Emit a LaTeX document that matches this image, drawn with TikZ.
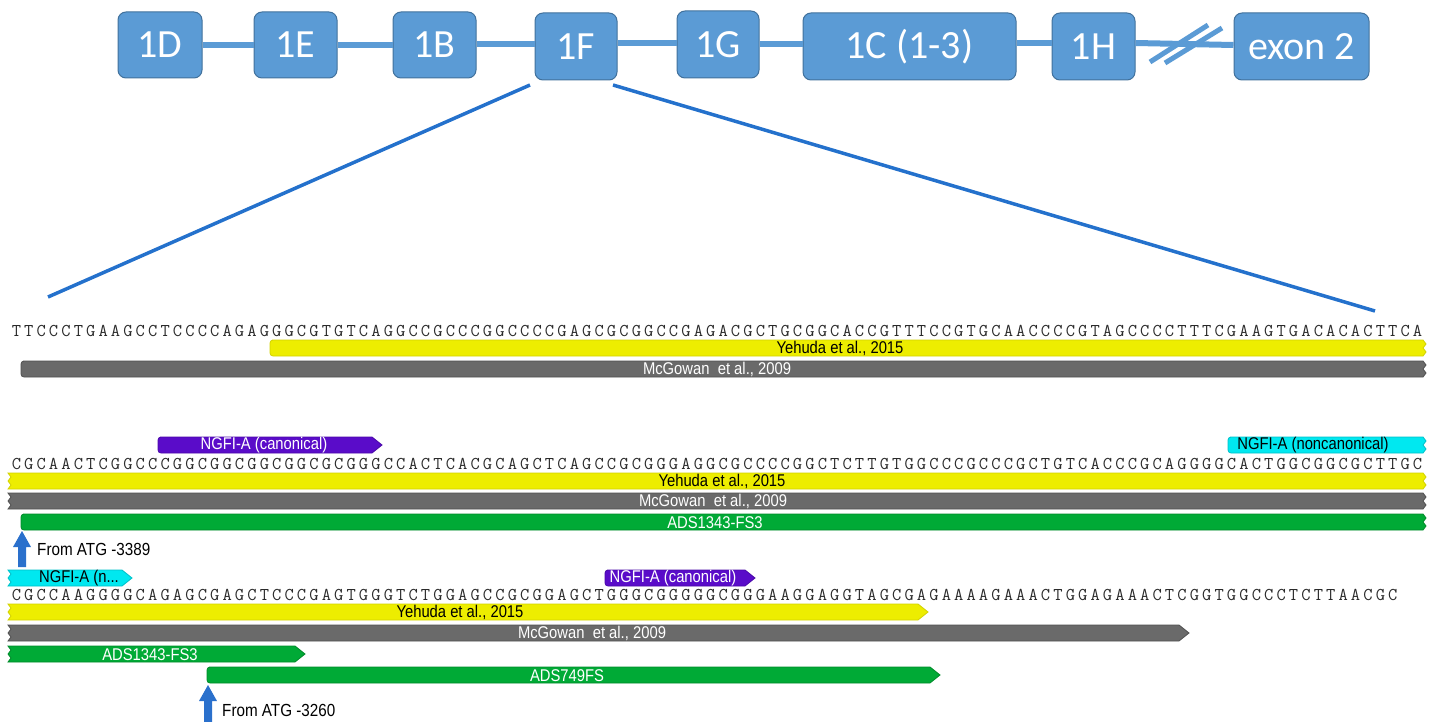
\documentclass[tikz,border=0pt]{standalone}
\usepackage{fontspec}
\usepackage{graphicx}
\setmainfont{Liberation Sans}
\newfontfamily\boxfont{Carlito}
\usetikzlibrary{calc}

\definecolor{exonblue}{HTML}{5B9BD5}
\definecolor{exonedge}{HTML}{41719C}
\definecolor{zoomblue}{HTML}{2471CC}
\definecolor{arrowblue}{HTML}{2A70CC}
\definecolor{ylw}{HTML}{EDED00}
\definecolor{ylwedge}{HTML}{D2D200}
\definecolor{gry}{HTML}{6A6A6A}
\definecolor{gryedge}{HTML}{505050}
\definecolor{grn}{HTML}{00AA36}
\definecolor{grnedge}{HTML}{008A2A}
\definecolor{prp}{HTML}{5A0CC9}
\definecolor{prpedge}{HTML}{4A08A8}
\definecolor{cyn}{HTML}{00E8F0}
\definecolor{cynedge}{HTML}{00C0C8}
\definecolor{seqcol}{HTML}{2A2A2A}

\newcommand{\seqtext}[1]{\seqloop#1\relax}
\def\seqloop#1{\ifx\relax#1\else\makebox[12.4pt]{#1}\expandafter\seqloop\fi}
\newcommand{\lbl}[1]{\scalebox{0.87}[1]{#1}}
\newcounter{featn}

\tikzset{
  exon/.style={rounded corners=8pt, fill=exonblue, draw=exonedge, line width=1pt,
    text=white, font=\boxfont\fontsize{40}{40}\selectfont, inner sep=0pt, minimum height=66pt},
  link/.style={exonblue, line width=6pt},
  zoomline/.style={zoomblue, line width=3.5pt},
  seq/.style={anchor=base west, inner sep=0pt, text=seqcol, font=\ttfamily\fontsize{18}{18}\selectfont},
  ybar/.style={fill=ylw, draw=ylwedge, line width=0.8pt},
  gbar/.style={fill=gry, draw=gryedge, line width=0.8pt},
  grbar/.style={fill=grn, draw=grnedge, line width=0.8pt},
  pbar/.style={fill=prp, draw=prpedge, line width=0.8pt},
  cbar/.style={fill=cyn, draw=cynedge, line width=0.8pt},
  dark/.style={text=black, inner sep=0pt, font=\fontsize{17}{17}\selectfont},
  light/.style={text=white, inner sep=0pt, font=\fontsize{17}{17}\selectfont},
  atg/.style={fill=arrowblue, draw=none},
  atglabel/.style={anchor=west, inner sep=0pt, text=black, font=\fontsize{17.5}{17.5}\selectfont}
}

% #1 left r/z, #2 right a/z, #3 x1, #4 x2, #5 ytop, #6 bar style, #7 label, #8 label x, #9 label style
\newcommand{\feat}[9]{%
  \stepcounter{featn}%
  \if z#2\def\rpart{-- ({#4-2},#5) -- ({#4+1},{#5+4}) -- ({#4-2},{#5+8}) -- ({#4+1},{#5+12}) -- ({#4-2},{#5+16})}%
  \else\def\rpart{-- ({#4-10},#5) -- (#4,{#5+8}) -- ({#4-10},{#5+16})}\fi
  \if z#1\def\lpart{-- ({#3+5},{#5+16}) -- (#3,{#5+16}) -- ({#3+3},{#5+12}) -- (#3,{#5+8}) -- ({#3+3},{#5+4}) -- (#3,#5) -- cycle}%
  \else\def\lpart{-- ({#3+5},{#5+16}) [rounded corners=3pt] -- (#3,{#5+16}) -- (#3,#5) -- cycle}\fi
  \draw[#6] ({#3+5},#5) \rpart \lpart;
  \node[#9] (lab\arabic{featn}) at (#8,{#5+8.5}) {\lbl{#7}};
}

\begin{document}
\begin{tikzpicture}[x=1pt,y=-1pt]
\useasboundingbox (0,0) rectangle (1437,722);

% ---- exon map ----
\node[exon, minimum width=84pt] (d) at (160,45) {1D};
\node[exon, minimum width=83pt] (e) at (295.5,45) {1E};
\node[exon, minimum width=83pt] (b) at (434.5,45) {1B};
\node[exon, minimum width=82pt, minimum height=67pt] (f) at (576,46.5) {1F};
\node[exon, minimum width=82pt, minimum height=67pt] (g) at (718,44.5) {1G};
\node[exon, minimum width=213pt, minimum height=67pt] (c) at (909.5,46.5) {1C (1-3)};
\node[exon, minimum width=83pt, minimum height=67pt] (h) at (1093.5,46.5) {1H};
\node[exon, minimum width=135pt, minimum height=67pt] (x) at (1301.5,46.5) {exon 2};

\draw[link] (d.east) -- (e.west);
\draw[link] (e.east) -- (b.west);
\draw[link] (b.east |- 0,44) -- (f.west |- 0,44);
\draw[link] (f.east |- 0,43) -- (g.west |- 0,43);
\draw[link] (g.east |- 0,44) -- (c.west |- 0,44);
\draw[link] (c.east |- 0,43) -- (h.west |- 0,43);
\draw[link] (h.east |- 0,43) -- (x.west |- 0,45);
\draw[exonblue, line width=5pt] (1150,62) -- (1208,25);
\draw[exonblue, line width=5pt] (1165,63) -- (1222,28);

% ---- zoom lines ----
\coordinate (fl) at (530,85);
\coordinate (fr) at (613,85);
\coordinate (zl) at (48,297);
\coordinate (zr) at (1375,311);
\draw[zoomline] (fl) -- (zl);
\draw[zoomline] (fr) -- (zr);

% ---- line 1 ----
\node[seq] (s1) at (10,336.5) {\seqtext{TTCCCTGAAGCCTCCCCAGAGGGCGTGTCAGGCCGCCCGGCCCCGAGCGCGGCCGAGACGCTGCGGCACCGTTTCCGTGCAACCCCGTAGCCCCTTTCGAAGTGACACACTTCA}};
\feat{r}{z}{270}{1425}{340}{ybar}{Yehuda et al., 2015}{840}{dark}
\feat{r}{z}{21}{1425}{361}{gbar}{McGowan\ \ et al., 2009}{717}{light}

% ---- line 2 ----
\feat{r}{a}{158}{382}{437}{pbar}{NGFI-A (canonical)}{264}{light}
\feat{r}{z}{1228}{1425}{437}{cbar}{NGFI-A (noncanonical)}{1313}{dark}
\node[seq] (s2) at (10,469.5) {\seqtext{CGCAACTCGGCCCGGCGGCGGCGGCGCGGGCCACTCACGCAGCTCAGCCGCGGGAGGCGCCCCGGCTCTTGTGGCCCGCCCGCTGTCACCCGCAGGGGCACTGGCGGCGCTTGC}};
\feat{z}{z}{8}{1425}{473}{ybar}{Yehuda et al., 2015}{722}{dark}
\feat{z}{z}{8}{1425}{493}{gbar}{McGowan\ \ et al., 2009}{713}{light}
\feat{r}{z}{21}{1425}{514}{grbar}{ADS1343-FS3}{715}{light}

\draw[atg] (22,531) -- (31,547) -- (26,547) -- (26,567) -- (18,567) -- (18,547) -- (13,547) -- cycle;
\node[atglabel] (atg1) at (37,549) {\lbl{From ATG -3389}};

% ---- line 3 ----
\feat{z}{a}{8}{132}{570}{cbar}{NGFI-A (n...}{79}{dark}
\feat{r}{a}{605}{755}{570}{pbar}{NGFI-A (canonical)}{673}{light}
\node[seq] (s3) at (10,600.5) {\seqtext{CGCCAAGGGGCAGAGCGAGCTCCCGAGTGGGTCTGGAGCCGCGGAGCTGGGCGGGGGCGGGAAGGAGGTAGCGAGAAAAGAAACTGGAGAAACTCGGTGGCCCTCTTAACGC}};
\feat{z}{a}{8}{928}{604}{ybar}{Yehuda et al., 2015}{460}{dark}
\feat{z}{a}{8}{1189}{625}{gbar}{McGowan\ \ et al., 2009}{592}{light}
\feat{z}{a}{8}{305}{646}{grbar}{ADS1343-FS3}{150}{light}
\feat{r}{a}{207}{940}{667}{grbar}{ADS749FS}{567}{light}

\draw[atg] (208,685) -- (217,701) -- (212,701) -- (212,722) -- (204,722) -- (204,701) -- (199,701) -- cycle;
\node[atglabel] (atg2) at (222,710) {\lbl{From ATG -3260}};
\end{tikzpicture}
\end{document}
